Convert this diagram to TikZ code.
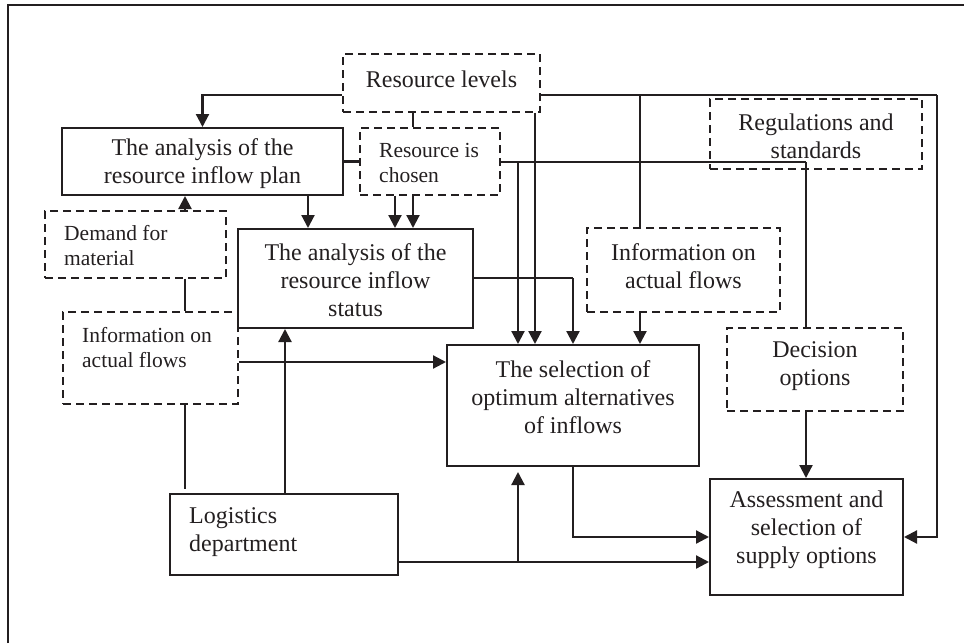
\documentclass[tikz,border=0pt]{standalone}
\usepackage{fontspec}
\setmainfont{Liberation Serif}
\usetikzlibrary{arrows.meta}
\definecolor{ink}{HTML}{231F20}
\begin{document}
\begin{tikzpicture}[x=1pt,y=-1pt,
  solidbox/.style={draw=ink, line width=2pt, inner sep=0pt, rectangle},
  dashbox/.style={draw=ink, line width=1.8pt, dash pattern=on 8pt off 5pt, inner sep=0pt, rectangle},
  bigtext/.style={inner sep=0pt, text=ink, font=\fontsize{24}{28}\selectfont, align=center},
  smalltext/.style={inner sep=0pt, text=ink, font=\fontsize{21.5}{25}\selectfont, align=left, anchor=west},
  lefttext/.style={inner sep=0pt, text=ink, font=\fontsize{24}{28}\selectfont, align=left, anchor=west},
  link/.style={draw=ink, line width=2.2pt},
  arrow/.style={link, -{Triangle[length=13pt,width=13pt]}}]
\useasboundingbox (0,0) rectangle (964,643);
% outer frame (top and left edges)
\draw[ink, line width=1.3pt] (8,643) -- (8,5) -- (964,5);

% boxes
\node[dashbox, minimum width=197pt, minimum height=58pt] (levels) at (441.5,83) {};
\node[bigtext] (levelst) at (441.5,79) {Resource levels};

\node[solidbox, minimum width=281pt, minimum height=67pt] (plan) at (202.5,161.5) {};
\node[bigtext] (plant) at (202.5,164) {The analysis of the\\resource inflow plan};

\node[dashbox, minimum width=140pt, minimum height=67pt] (chosen) at (430,161.5) {};
\node[smalltext] (chosent) at (379,163) {Resource is\\chosen};

\node[dashbox, minimum width=181pt, minimum height=67pt] (demand) at (135.5,244.5) {};
\node[smalltext] (demandt) at (64,246) {Demand for\\material};

\node[solidbox, minimum width=235pt, minimum height=99pt] (status) at (355.5,278.5) {};
\node[bigtext] (statust) at (355.5,280) {The analysis of the\\resource inflow\\status};

\node[dashbox, minimum width=175pt, minimum height=92pt] (infoL) at (150.5,358) {};
\node[smalltext] (infoLt) at (82,347.5) {Information on\\actual flows};

\node[dashbox, minimum width=193pt, minimum height=84pt] (infoR) at (683.5,270) {};
\node[bigtext] (infoRt) at (683.5,266.5) {Information on\\actual flows};

\node[dashbox, minimum width=212pt, minimum height=70pt] (regs) at (816,134) {};
\node[bigtext] (regst) at (816,136.5) {Regulations and\\standards};

\node[solidbox, minimum width=252pt, minimum height=121pt] (select) at (573,405.5) {};
\node[bigtext] (selectt) at (573,397) {The selection of\\optimum alternatives\\of inflows};

\node[dashbox, minimum width=176pt, minimum height=83pt] (decision) at (815,369.5) {};
\node[bigtext] (decisiont) at (815,366) {Decision\\options};

\node[solidbox, minimum width=228pt, minimum height=81pt] (logi) at (284,534.5) {};
\node[lefttext] (logit) at (189,532) {Logistics\\department};

\node[solidbox, minimum width=193pt, minimum height=116pt] (assess) at (806.5,537) {};
\node[bigtext] (assesst) at (806.5,530) {Assessment and\\selection of\\supply options};

% turning points and junctions
\coordinate (topright) at (937,95);
\coordinate (infoRtap) at (640,95);
\coordinate (choseright) at (806,162);
\coordinate (chosetap) at (518,162);
\coordinate (statusturn) at (573,278);
\coordinate (logitap) at (518,562);
\coordinate (infoLdrop) at (185,489);

% connectors from "Resource levels"
\draw[arrow] (levels.west |- 0,95) -| (plan.north);
\draw[link] (levels.south -| 413,0) -- (chosen.north -| 413,0);
\draw[arrow] (levels.south -| 535,0) -- (select.north -| 535,0);
\draw[link] (levels.east |- 0,95) -- (topright);
\draw[arrow] (topright) |- (assess.east |- 0,537);
\draw[link] (infoRtap) -- (infoR.north -| 640,0);

% plan / chosen / status
\draw[link] (plan.east) -- (chosen.west);
\draw[arrow] (plan.south -| 308,0) -- (status.north -| 308,0);
\draw[arrow] (chosen.south -| 395,0) -- (status.north -| 395,0);
\draw[arrow] (chosen.south -| 413,0) -- (status.north -| 413,0);
\draw[link] (chosen.east |- 0,162) -- (choseright);
\draw[link] (choseright) -- (decision.north -| 806,0);
\draw[arrow] (chosetap) -- (select.north -| 518,0);
\draw[link] (status.east |- 0,278) -- (statusturn);
\draw[arrow] (statusturn) -- (select.north -| 573,0);
\draw[arrow] (infoR.south -| 640,0) -- (select.north -| 640,0);

% left column
\draw[arrow] (demand.north -| 185,0) -- (plan.south -| 185,0);
\draw[link] (demand.south -| 185,0) -- (infoL.north -| 185,0);
\draw[link] (infoL.south -| 185,0) -- (infoLdrop);
\draw[arrow] (logi.north -| 285,0) -- (status.south -| 285,0);
\draw[arrow] (infoL.east |- 0,362) -- (select.west |- 0,362);

% bottom
\draw[arrow] (logi.east |- 0,562) -- (assess.west |- 0,562);
\draw[arrow, shorten >=5pt] (logitap) -- (select.south -| 518,0);
\draw[arrow] (select.south -| 573,0) |- (assess.west |- 0,537);
\draw[arrow] (decision.south -| 806,0) -- (assess.north -| 806,0);
\end{tikzpicture}
\end{document}
